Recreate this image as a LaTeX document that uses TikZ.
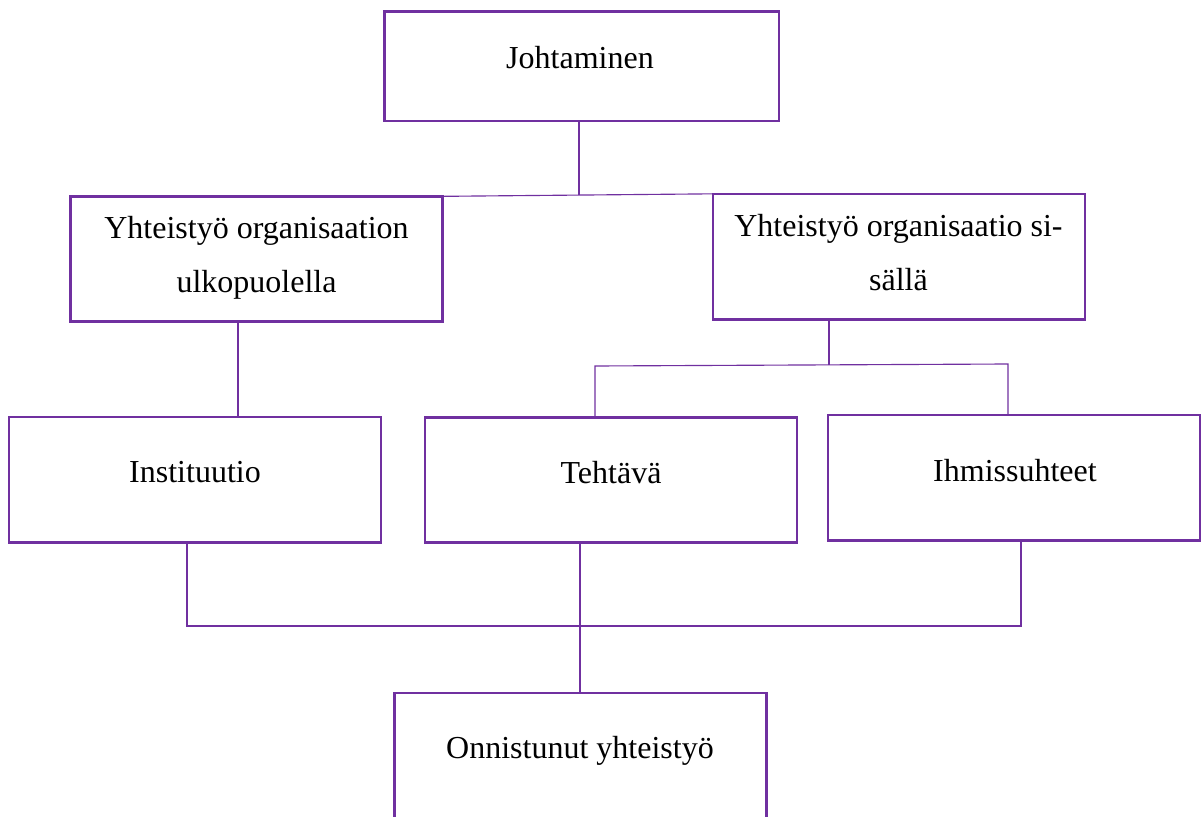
\documentclass[tikz,border=0pt]{standalone}
\usepackage{fontspec}
\setmainfont{Liberation Serif}
\definecolor{purp}{HTML}{7030A0}
\begin{document}
\begin{tikzpicture}[x=0.75pt,y=-0.75pt,
  box/.style={draw=purp,line width=2pt,inner sep=0pt,outer sep=0pt,minimum width=279pt,minimum height=94pt},
  txt/.style={inner sep=0pt,anchor=base,align=center,font=\fontsize{24}{40.5}\selectfont},
  conn/.style={draw=purp,line width=0.85pt}]
\useasboundingbox (0,0) rectangle (1204,817);
\clip (0,0) rectangle (1204,817);
% boxes
\node[box,minimum width=296pt,minimum height=82pt] (j) at (581.5,66.5) {};
\node[box] (l) at (256.5,259) {};
\node[box] (r) at (899,256.5) {};
\node[box] (i) at (195,479.5) {};
\node[box] (t) at (611,480) {};
\node[box] (h) at (1014,477.5) {};
\node[box,minimum height=97pt] (o) at (580.5,757.5) {};
% texts
\node[txt] (jt) at (580,69) {Johtaminen};
\node[txt] (lt) at (256.5,292) {Yhteistyö organisaation\\ulkopuolella};
\node[txt] (rt) at (898.5,290) {Yhteistyö organisaatio si-\\sällä};
\node[txt] (it) at (195,482) {Instituutio};
\node[txt] (tt) at (611,483) {Tehtävä};
\node[txt] (ht) at (1015,481) {Ihmissuhteet};
\node[txt] (ot) at (580,758) {Onnistunut yhteistyö};
% connectors
\coordinate (c1) at (579,195);
\draw[conn] (j.south -| c1) -- (c1);
\draw[conn] (l.north east) -- (r.north west);
\draw[conn] (l.south -| 238,0) -- (i.north -| 238,0);
\coordinate (c2) at (829,365);
\coordinate (c2l) at (595,366);
\coordinate (c2r) at (1008,364);
\draw[conn] (r.south -| c2) -- (c2);
\draw[conn] (t.north -| c2l) -- (c2l) -- (c2r) -- (h.north -| c2r);
\coordinate (c3l) at (187,626);
\coordinate (c3r) at (1021,626);
\draw[conn] (i.south -| c3l) -- (c3l) -- (c3r) -- (h.south -| c3r);
\draw[conn] (t.south -| 580,0) -- (o.north -| 580,0);
\end{tikzpicture}
\end{document}
